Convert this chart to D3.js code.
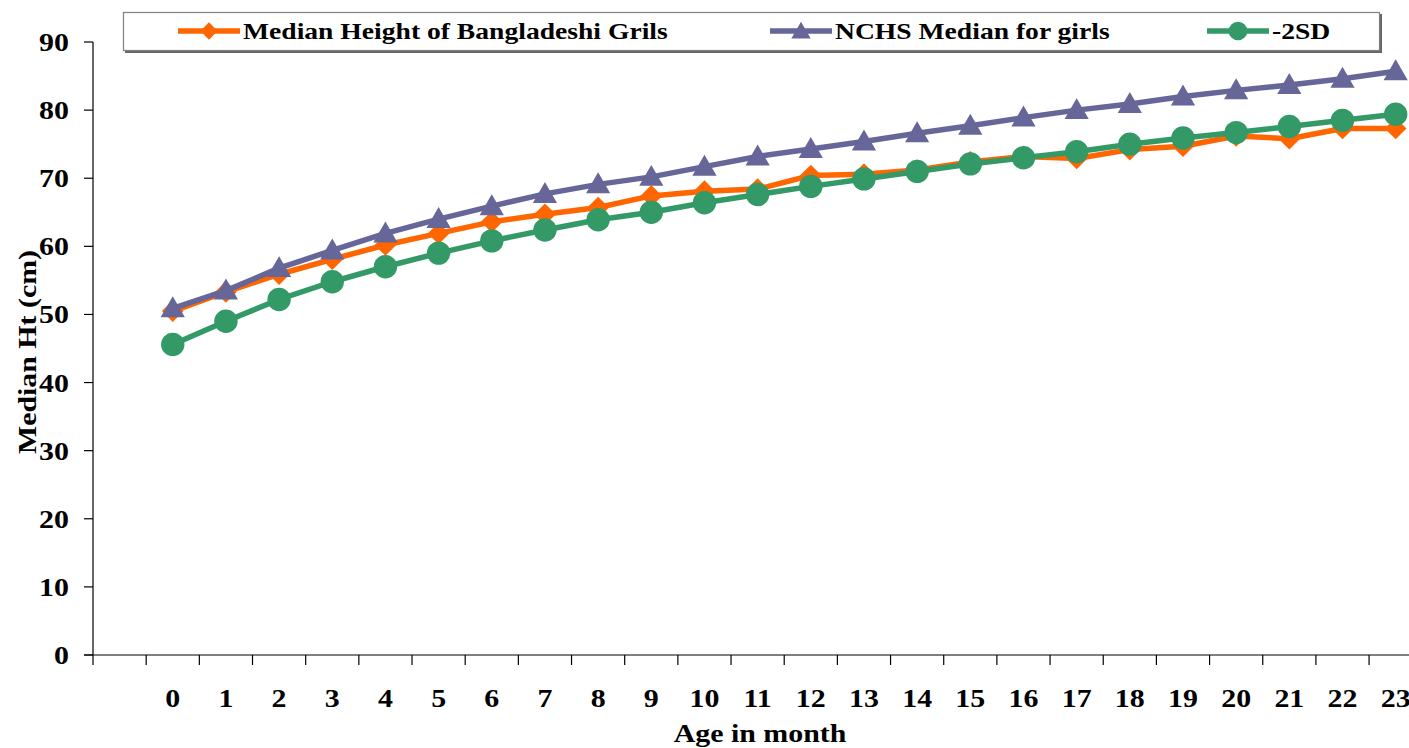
<!DOCTYPE html>
<html>
<head>
<meta charset="utf-8">
<script src="https://cdn.jsdelivr.net/npm/d3@7"></script>
<style>
  html, body { margin: 0; padding: 0; background: #fff; overflow: hidden; }
  svg { display: block; font-family: "Liberation Serif", "Times New Roman", serif; font-weight: bold; }
</style>
</head>
<body>
<svg id="chart" width="1409" height="748"></svg>
<script>
// Age categories (months); the axis keeps one empty slot before month 0
const ages = ["", "0","1","2","3","4","5","6","7","8","9","10","11","12","13","14","15","16","17","18","19","20","21","22","23"];
const months = ["0","1","2","3","4","5","6","7","8","9","10","11","12","13","14","15","16","17","18","19","20","21","22","23"];

// Median height (cm) of Bangladeshi girls
const bangladeshMedian = [50.5, 53.3, 55.9, 58.1, 60.2, 61.9, 63.6, 64.7, 65.7, 67.4, 68.1, 68.4, 70.4, 70.6, 71.2, 72.4, 73.2, 72.9, 74.2, 74.7, 76.2, 75.8, 77.3, 77.3];
// NCHS reference median for girls
const nchsMedian = [50.9, 53.5, 56.8, 59.4, 61.9, 64.0, 65.9, 67.7, 69.1, 70.2, 71.7, 73.2, 74.3, 75.4, 76.6, 77.7, 78.9, 80.0, 80.9, 82.0, 82.9, 83.7, 84.6, 85.7];
// NCHS median minus two standard deviations
const minus2SD = [45.6, 49.0, 52.2, 54.8, 57.0, 59.0, 60.8, 62.4, 63.9, 65.0, 66.4, 67.6, 68.8, 69.9, 71.0, 72.1, 73.0, 73.9, 75.0, 75.9, 76.7, 77.6, 78.5, 79.4];

const yTicks = [0, 10, 20, 30, 40, 50, 60, 70, 80, 90];

const seriesNames = ["Median Height of Bangladeshi Grils", "NCHS Median for girls", "-2SD"];
const seriesColors = ["#FF6600", "#666699", "#339966"];

const series = [
  { name: seriesNames[0], values: bangladeshMedian, color: seriesColors[0], marker: "diamond" },
  { name: seriesNames[1], values: nchsMedian, color: seriesColors[1], marker: "triangle" },
  { name: seriesNames[2], values: minus2SD, color: seriesColors[2], marker: "circle" }
];

const svg = d3.select("#chart");

const plotLeft = 93, plotBottom = 655, plotTop = 42;
const bandW = 53.17;
const FONT = 26, STRETCH = 1.15;

const x = d3.scaleBand().domain(ages).range([plotLeft, plotLeft + bandW * ages.length]).padding(0);
const y = d3.scaleLinear().domain([0, 90]).range([plotBottom, plotTop]);

// Bold serif label, widened horizontally
function label(parent, tx, ty, str, opts) {
  const o = opts || {};
  const rot = o.rotate ? ` rotate(${o.rotate})` : "";
  const g = parent.append("g").attr("transform", `translate(${tx},${ty})${rot} scale(${STRETCH},1)`);
  g.append("text").attr("text-anchor", o.anchor || "start")
    .attr("font-size", o.size || FONT).attr("fill", "#000").text(str);
  return g;
}

// Y axis
svg.append("line").attr("x1", plotLeft).attr("x2", plotLeft)
  .attr("y1", y(90)).attr("y2", plotBottom + 10).attr("stroke", "#000").attr("stroke-width", 1.2);
svg.append("g").selectAll("line").data(yTicks).join("line")
  .attr("x1", plotLeft - 9).attr("x2", plotLeft)
  .attr("y1", d => y(d)).attr("y2", d => y(d))
  .attr("stroke", "#000").attr("stroke-width", 1.2);
const yl = svg.append("g");
yTicks.forEach(t => label(yl, 69, y(t) + 9, String(t), { anchor: "end" }));

// X axis: ticks on category boundaries, labels in band centers
const xg = svg.append("g");
xg.append("line").attr("x1", plotLeft - 9).attr("x2", x.range()[1])
  .attr("y1", plotBottom).attr("y2", plotBottom).attr("stroke", "#000").attr("stroke-width", 1.2);
xg.selectAll("line.tk").data(d3.range(1, ages.length + 1)).join("line")
  .attr("class", "tk")
  .attr("x1", i => plotLeft + i * x.bandwidth()).attr("x2", i => plotLeft + i * x.bandwidth())
  .attr("y1", plotBottom).attr("y2", plotBottom + 10)
  .attr("stroke", "#000").attr("stroke-width", 1.2);
months.forEach(m => label(xg, x(m) + x.bandwidth() / 2, 707, m, { anchor: "middle" }));

// Axis titles
label(svg, 760, 742, "Age in month", { anchor: "middle" });
label(svg, 36, 352, "Median Ht (cm)", { anchor: "middle", rotate: -90 });

// Marker shapes
function markerPath(type, scale) {
  const s = scale || 1;
  if (type === "diamond") return d3.symbol(d3.symbolDiamond2, 300 * s * s)();
  if (type === "triangle") return d3.symbol(d3.symbolTriangle2, 420 * s * s)();
  return d3.symbol(d3.symbolCircle, 430 * s * s)();
}

const line = d3.line()
  .x((d, i) => x(months[i]) + x.bandwidth() / 2)
  .y(d => y(d));

// Lines and markers
series.forEach(s => {
  const g = svg.append("g");
  g.append("path").datum(s.values)
    .attr("d", line).attr("fill", "none")
    .attr("stroke", s.color).attr("stroke-width", 5.5).attr("stroke-linejoin", "round");
  g.selectAll("path.m").data(s.values).join("path")
    .attr("class", "m")
    .attr("d", markerPath(s.marker))
    .attr("transform", (d, i) => {
      const cx = x(months[i]) + x.bandwidth() / 2;
      const cy = y(d) + (s.marker === "triangle" ? 2 : 0);
      return `translate(${cx},${cy})`;
    })
    .attr("fill", s.color);
});

// Legend box with shadow
const lg = svg.append("g");
lg.append("rect").attr("x", 125).attr("y", 14).attr("width", 1257).attr("height", 39)
  .attr("fill", "#666");
lg.append("rect").attr("x", 123.5).attr("y", 12.5).attr("width", 1256).attr("height", 38)
  .attr("fill", "#fff").attr("stroke", "#808080").attr("stroke-width", 1.2);

const legendX = [178, 770, 1207];
series.forEach((s, i) => {
  const lx = legendX[i], ly = 31;
  lg.append("line").attr("x1", lx).attr("x2", lx + 62).attr("y1", ly).attr("y2", ly)
    .attr("stroke", s.color).attr("stroke-width", 5.5);
  lg.append("path").attr("d", markerPath(s.marker, 0.8))
    .attr("transform", `translate(${lx + 31},${ly + (s.marker === "triangle" ? 2 : 0)})`)
    .attr("fill", s.color);
  label(lg, lx + 65, ly + 8, s.name, { size: 24 });
});
</script>
</body>
</html>
